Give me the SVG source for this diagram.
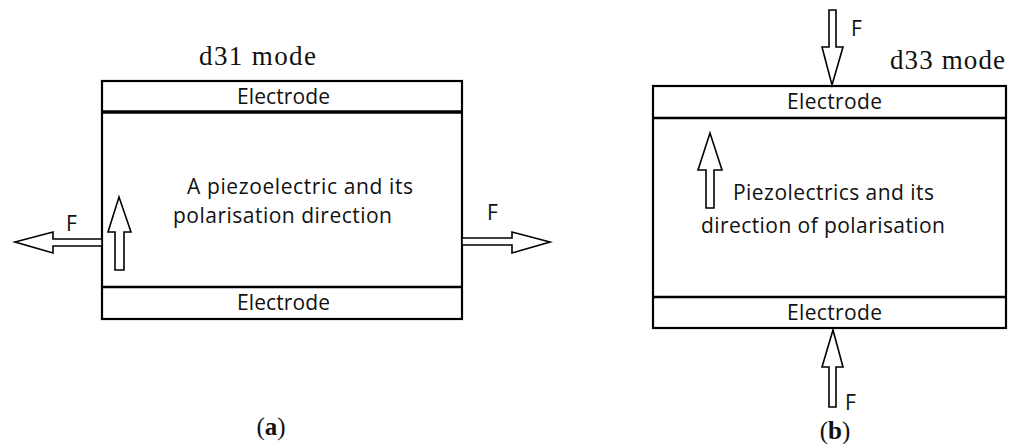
<svg xmlns="http://www.w3.org/2000/svg" width="1014" height="444" viewBox="0 0 1014 444">
<style>
.box{fill:#fff;stroke:#000;stroke-width:2.2}
.sep{stroke:#000;stroke-width:2.5;fill:none}
.arr{fill:#fff;stroke:#000;stroke-width:1.6;stroke-linejoin:miter}
.t{font-family:"Open Sans","Liberation Sans",sans-serif;font-size:21px;fill:#111}
.ser{font-family:"Liberation Serif",serif;font-size:27px;fill:#111}
.cap{font-family:"Liberation Serif",serif;font-size:25px;fill:#111;text-anchor:middle}
</style>
<rect width="1014" height="444" fill="#fff"/>
<g id="panel-a">
  <g id="a-body"><rect class="box" x="102" y="81" width="360" height="238"/>
    <line class="sep" x1="102" y1="112" x2="462" y2="112" style="stroke-width:3.5"/>
    <line class="sep" x1="102" y1="287" x2="462" y2="287"/></g>
  <g id="a-top-electrode"><text class="t" x="237" y="104" textLength="93">Electrode</text></g>
  <g id="a-bottom-electrode"><text class="t" x="237" y="310" textLength="93">Electrode</text></g>
  <g id="a-piezo"><text class="t" x="187" y="194" textLength="226">A piezoelectric and its</text>
    <text class="t" x="173" y="223" textLength="219">polarisation direction</text></g>
  <text class="ser" x="199" y="65" textLength="117">d31 mode</text>
  <text class="cap" x="271" y="435">(<tspan font-weight="bold">a</tspan>)</text>
</g>
<g id="panel-b">
  <g id="b-body"><rect class="box" x="653" y="86" width="353" height="242"/>
    <line class="sep" x1="653" y1="118" x2="1006" y2="118"/>
    <line class="sep" x1="653" y1="297" x2="1006" y2="297"/></g>
  <g id="b-top-electrode"><text class="t" x="787" y="109" textLength="95">Electrode</text></g>
  <g id="b-bottom-electrode"><text class="t" x="787" y="320" textLength="95">Electrode</text></g>
  <g id="b-piezo"><text class="t" x="733" y="200" textLength="201">Piezolectrics and its</text>
    <text class="t" x="701" y="233" textLength="244">direction of polarisation</text></g>
  <text class="ser" x="890" y="69" textLength="115">d33 mode</text>
  <text class="cap" x="835" y="439">(<tspan font-weight="bold">b</tspan>)</text>
</g>
<g id="connectors">
  <polygon class="arr" points="102,239 53,239 53,232 15,242 53,253 53,246 102,246"/>
  <polygon class="arr" points="462,238 512,238 512,232 550,242 512,253 512,245 462,245"/>
  <polygon class="arr" points="115,270 115,232 108,232 119,197 131,232 124,232 124,270"/>
  <polygon class="arr" points="706,208 706,170 698,170 710,133 722,170 714,170 714,208"/>
  <polygon class="arr" points="829,10 829,47 822,47 832,85 843,47 836,47 836,10"/>
  <polygon class="arr" points="829,407 829,367 822,367 833,330 843,367 836,367 836,407"/>
  <text class="t" x="66" y="231">F</text>
  <text class="t" x="487" y="220">F</text>
  <text class="t" x="851" y="36">F</text>
  <text class="t" x="845" y="410">F</text>
</g>
</svg>
